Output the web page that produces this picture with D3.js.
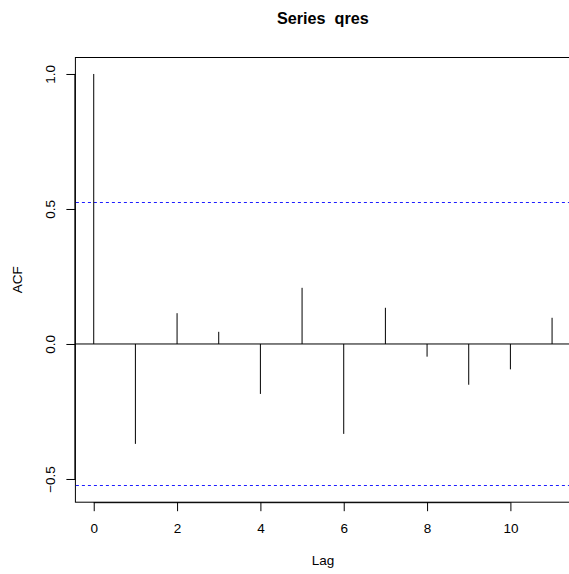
<!doctype html>
<html lang="en">
<head>
<meta charset="utf-8">
<title>Series qres</title>
<script src="https://cdn.jsdelivr.net/npm/d3@7"></script>
<style>
  body { margin: 0; background: #fff; }
  svg { display: block; font-family: "Liberation Sans", Arial, sans-serif; }
</style>
</head>
<body>
<script>
// acf values by lag
var lags = [0, 1, 2, 3, 4, 5, 6, 7, 8, 9, 10, 11];
var acfValues = [1.0, -0.370, 0.114, 0.045, -0.185, 0.208, -0.333, 0.134, -0.047, -0.151, -0.094, 0.097];
var confLimit = 0.524;
var xTicks = [0, 2, 4, 6, 8, 10];
var yTicks = [-0.5, 0.0, 0.5, 1.0];

var svgW = 569, svgH = 574;
var plot = {left: 75.4, right: 570.4, top: 57.5, bottom: 502.2};
var fontSize = 13.5;

var xScale = d3.scaleLinear().domain([-0.44, 11.44]).range([plot.left, plot.right]);
var yScale = d3.scaleLinear().domain([-0.586, 1.061]).range([plot.bottom, plot.top]);

var svg = d3.select("body").append("svg")
    .attr("width", svgW)
    .attr("height", svgH);

// plot box
svg.append("rect")
   .attr("x", plot.left)
   .attr("y", plot.top)
   .attr("width", plot.right - plot.left)
   .attr("height", plot.bottom - plot.top)
   .attr("fill", "none")
   .attr("stroke", "#000")
   .attr("stroke-width", 1);

// zero line
svg.append("line")
   .attr("x1", plot.left).attr("x2", plot.right)
   .attr("y1", yScale(0)).attr("y2", yScale(0))
   .attr("stroke", "#000");

// confidence limits (snapped to whole pixels so the blue stays crisp)
svg.selectAll("line.ci")
   .data([-confLimit, confLimit])
   .enter()
   .append("line")
   .attr("class", "ci")
   .attr("x1", plot.left + 0.5).attr("x2", plot.right)
   .attr("y1", d => Math.round(yScale(d)) + 0.5)
   .attr("y2", d => Math.round(yScale(d)) + 0.5)
   .style("stroke", "rgb(30,30,255)")
   .attr("stroke-dasharray", "3,3");

// stems
svg.selectAll("line.stem")
   .data(lags)
   .enter()
   .append("line")
   .attr("class", "stem")
   .attr("x1", d => xScale(d)).attr("x2", d => xScale(d))
   .attr("y1", yScale(0))
   .attr("y2", (d, i) => yScale(acfValues[i]))
   .attr("stroke", "#000");

// axes
var xAxis = d3.axisBottom(xScale).tickValues(xTicks).tickFormat(d3.format("d")).tickSize(9);
var yAxis = d3.axisLeft(yScale).tickValues(yTicks).tickFormat(d3.format(".1f")).tickSize(9);

var gx = svg.append("g")
   .attr("transform", "translate(0," + plot.bottom + ")")
   .call(xAxis);
gx.select(".domain").attr("d", "M" + xScale(0) + ",0.5H" + xScale(10));
gx.selectAll("text")
  .attr("font-size", fontSize).attr("font-family", null).attr("fill", "#000")
  .attr("y", 31).attr("dy", null);

var gy = svg.append("g")
   .attr("transform", "translate(" + plot.left + ",0)")
   .call(yAxis);
gy.select(".domain").attr("d", "M-0.5," + yScale(-0.5) + "V" + yScale(1));
gy.selectAll("text")
  .attr("font-size", fontSize).attr("font-family", null).attr("fill", "#000")
  .attr("x", null).attr("dy", null)
  .attr("text-anchor", "middle")
  .attr("transform", "translate(-20.5,0) rotate(-90)");

// labels
svg.append("text")
   .attr("x", (plot.left + plot.right) / 2)
   .attr("y", 24)
   .attr("text-anchor", "middle")
   .attr("font-weight", "bold")
   .attr("font-size", 16.2)
   .style("white-space", "pre")
   .text("Series  qres");

svg.append("text")
   .attr("x", (plot.left + plot.right) / 2)
   .attr("y", 565)
   .attr("text-anchor", "middle")
   .attr("font-size", fontSize)
   .text("Lag");

svg.append("text")
   .attr("transform", "translate(21.5," + (plot.top + plot.bottom) / 2 + ") rotate(-90)")
   .attr("text-anchor", "middle")
   .attr("font-size", fontSize)
   .text("ACF");
</script>
</body>
</html>
